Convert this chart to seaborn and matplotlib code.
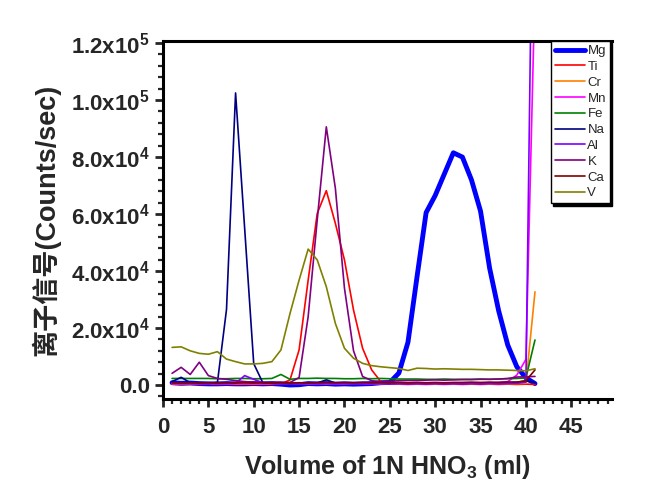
import matplotlib
matplotlib.use("Agg")
import matplotlib.pyplot as plt
import matplotlib.ticker as mticker
import numpy as np
import pandas as pd
import seaborn as sns

# volume fractions (ml)
volume = list(range(1, 42))

mg = [800, 600, 700, 500, 400, 400, 500, 400, 400, 500, 400, 500, 300, 0, 100, 500, 400, 500, 300, 400, 300,
      400, 500, 800, 900, 4200, 15000, 38000, 60500, 66500, 74000, 81500, 80000, 72000, 61000, 41000, 26000,
      14000, 6400, 2500, 500]
ti = [300, 200, 300, 200, 300, 200, 300, 200, 300, 200, 300, 200, 400, 1800, 12300, 36800, 60200, 68200, 56700,
      43900, 26300, 12900, 5300, 1200, 500, 300, 200, 300, 200, 300, 200, 300, 200, 300, 200, 300, 200, 300, 200,
      300, 200]
cr = [500, 400, 500, 400, 500, 400, 500, 400, 500, 400, 500, 400, 500, 400, 500, 400, 500, 400, 500, 400, 500,
      600, 500, 400, 500, 400, 500, 400, 500, 400, 500, 400, 500, 400, 500, 400, 500, 400, 500, 600, 32700]
mn = [500, 500, 600, 500, 500, 600, 500, 500, 600, 500, 500, 600, 500, 500, 600, 500, 500, 600, 500, 500, 600,
      500, 500, 600, 500, 500, 600, 500, 500, 600, 500, 500, 600, 700, 700, 800, 900, 1200, 3500, 9000, 140000]
fe = [2300, 2300, 2300, 2300, 2300, 2200, 2200, 2300, 2300, 2200, 2200, 2300, 3700, 2000, 2300, 2300, 2400,
      2300, 2300, 2200, 2200, 2300, 2200, 2300, 2200, 2100, 2100, 2100, 2000, 2000, 2100, 2000, 2000, 2000,
      2100, 2000, 2100, 2200, 2300, 2500, 15800]
na = [1200, 2700, 800, 600, 500, 900, 26500, 102500, 55000, 7500, 800, 600, 500, 400, 500, 600, 700, 1800, 700,
      600, 500, 600, 700, 600, 500, 600, 500, 600, 500, 600, 500, 600, 500, 600, 500, 700, 800, 900, 1000, 1400,
      800]
al = [600, 500, 500, 400, 500, 400, 500, 600, 3300, 2000, 800, 500, 400, 500, 400, 500, 400, 500, 400, 500, 400,
      500, 400, 500, 400, 500, 400, 500, 400, 500, 400, 500, 400, 500, 400, 500, 400, 500, 600, 1000, 240000]
k = [4100, 6200, 3700, 8000, 3300, 2300, 2000, 1500, 1200, 1000, 900, 900, 1000, 900, 2600, 24000, 58000, 90600,
     69000, 34000, 12000, 3000, 1500, 1200, 1300, 1500, 1600, 1600, 1700, 1800, 1700, 1800, 1900, 1900, 2000,
     2000, 2100, 2300, 2800, 2900, 3000]
ca = [800, 700, 800, 700, 800, 700, 800, 700, 800, 700, 800, 700, 800, 700, 800, 700, 800, 900, 800, 900, 800,
      900, 800, 900, 800, 900, 800, 900, 800, 900, 800, 900, 900, 1000, 900, 1000, 900, 1000, 1000, 1500, 5300]
v = [13200, 13400, 12000, 11100, 10800, 11700, 9100, 8200, 7400, 7400, 7600, 8200, 12300, 25100, 36800, 47700,
     43900, 34500, 21600, 12900, 9400, 7600, 6800, 6400, 6100, 5800, 5100, 5900, 5800, 5600, 5700, 5600, 5500,
     5500, 5400, 5300, 5300, 5200, 5100, 5000, 5700]

elements = ["Mg", "Ti", "Cr", "Mn", "Fe", "Na", "Al", "K", "Ca", "V"]
series = [mg, ti, cr, mn, fe, na, al, k, ca, v]
colors = ["#0000ff", "#ff0000", "#ff8000", "#ff00ff", "#008000", "#000080", "#8000ff", "#800080", "#800000",
          "#808000"]

sns.set_style("ticks")
plt.rcParams["font.family"] = ["Liberation Sans", "Noto Sans CJK SC", "DejaVu Sans"]
plt.rcParams["mathtext.fontset"] = "custom"
plt.rcParams["mathtext.rm"] = "Liberation Sans:bold"
plt.rcParams["mathtext.it"] = "Liberation Sans:bold"
plt.rcParams["mathtext.bf"] = "Liberation Sans:bold"

fig = plt.figure(figsize=(6.45, 4.95), dpi=100)
ax = fig.add_axes([0.2527, 0.194, 0.6963, 0.723])

for name, vals, c in zip(elements, series, colors):
    df = pd.DataFrame({"volume": volume, "signal": vals})
    lw = 3.5 if name == "Mg" else 1.2
    sns.lineplot(data=df, x="volume", y="signal", color=c, lw=lw, label=name, ax=ax)

ax.set_xlim(0, 49.5)
ax.set_ylim(-4900, 120700)

ax.xaxis.set_major_locator(mticker.MultipleLocator(5))
ax.xaxis.set_minor_locator(mticker.MultipleLocator(1))
ax.yaxis.set_major_locator(mticker.MultipleLocator(20000))
ax.yaxis.set_minor_locator(mticker.MultipleLocator(4000))


def sci_fmt(val, pos):
    if val == 0:
        return "0.0"
    e = int(np.floor(np.log10(abs(val))))
    m = val / 10 ** e
    return f"{m:.1f}x10$^{{{e}}}$"


ax.yaxis.set_major_formatter(mticker.FuncFormatter(sci_fmt))

for s in ["left", "bottom", "top"]:
    ax.spines[s].set_linewidth(2.2)
    ax.spines[s].set_color("black")
ax.spines["right"].set_visible(False)

ax.tick_params(which="major", direction="out", length=6, width=2, labelsize=16, top=False, right=False)
ax.tick_params(which="minor", direction="out", length=3.5, width=1.6, top=False, right=False)
for lab in ax.get_xticklabels() + ax.get_yticklabels():
    lab.set_fontweight("bold")
ax.tick_params(axis="x", pad=7)

ax.set_xlabel("Volume of 1N HNO$_3$ (ml)", fontsize=18, fontweight="bold", labelpad=11)
ax.set_ylabel("离子信号(Counts/sec)", fontsize=19.5, fontweight="bold", labelpad=8)

leg = ax.legend(loc="upper right", bbox_to_anchor=(0.995, 1.0), borderaxespad=0, fontsize=9.5,
                handlelength=2.3, handletextpad=0.15, labelspacing=0.27, borderpad=0.3,
                frameon=True, fancybox=False, shadow={"color": "black", "alpha": 1, "ox": 1.5, "oy": -1.5})
leg.get_frame().set_edgecolor("black")
leg.get_frame().set_linewidth(1.0)
leg.get_frame().set_alpha(1)

fig.savefig("out.png", dpi=100)
